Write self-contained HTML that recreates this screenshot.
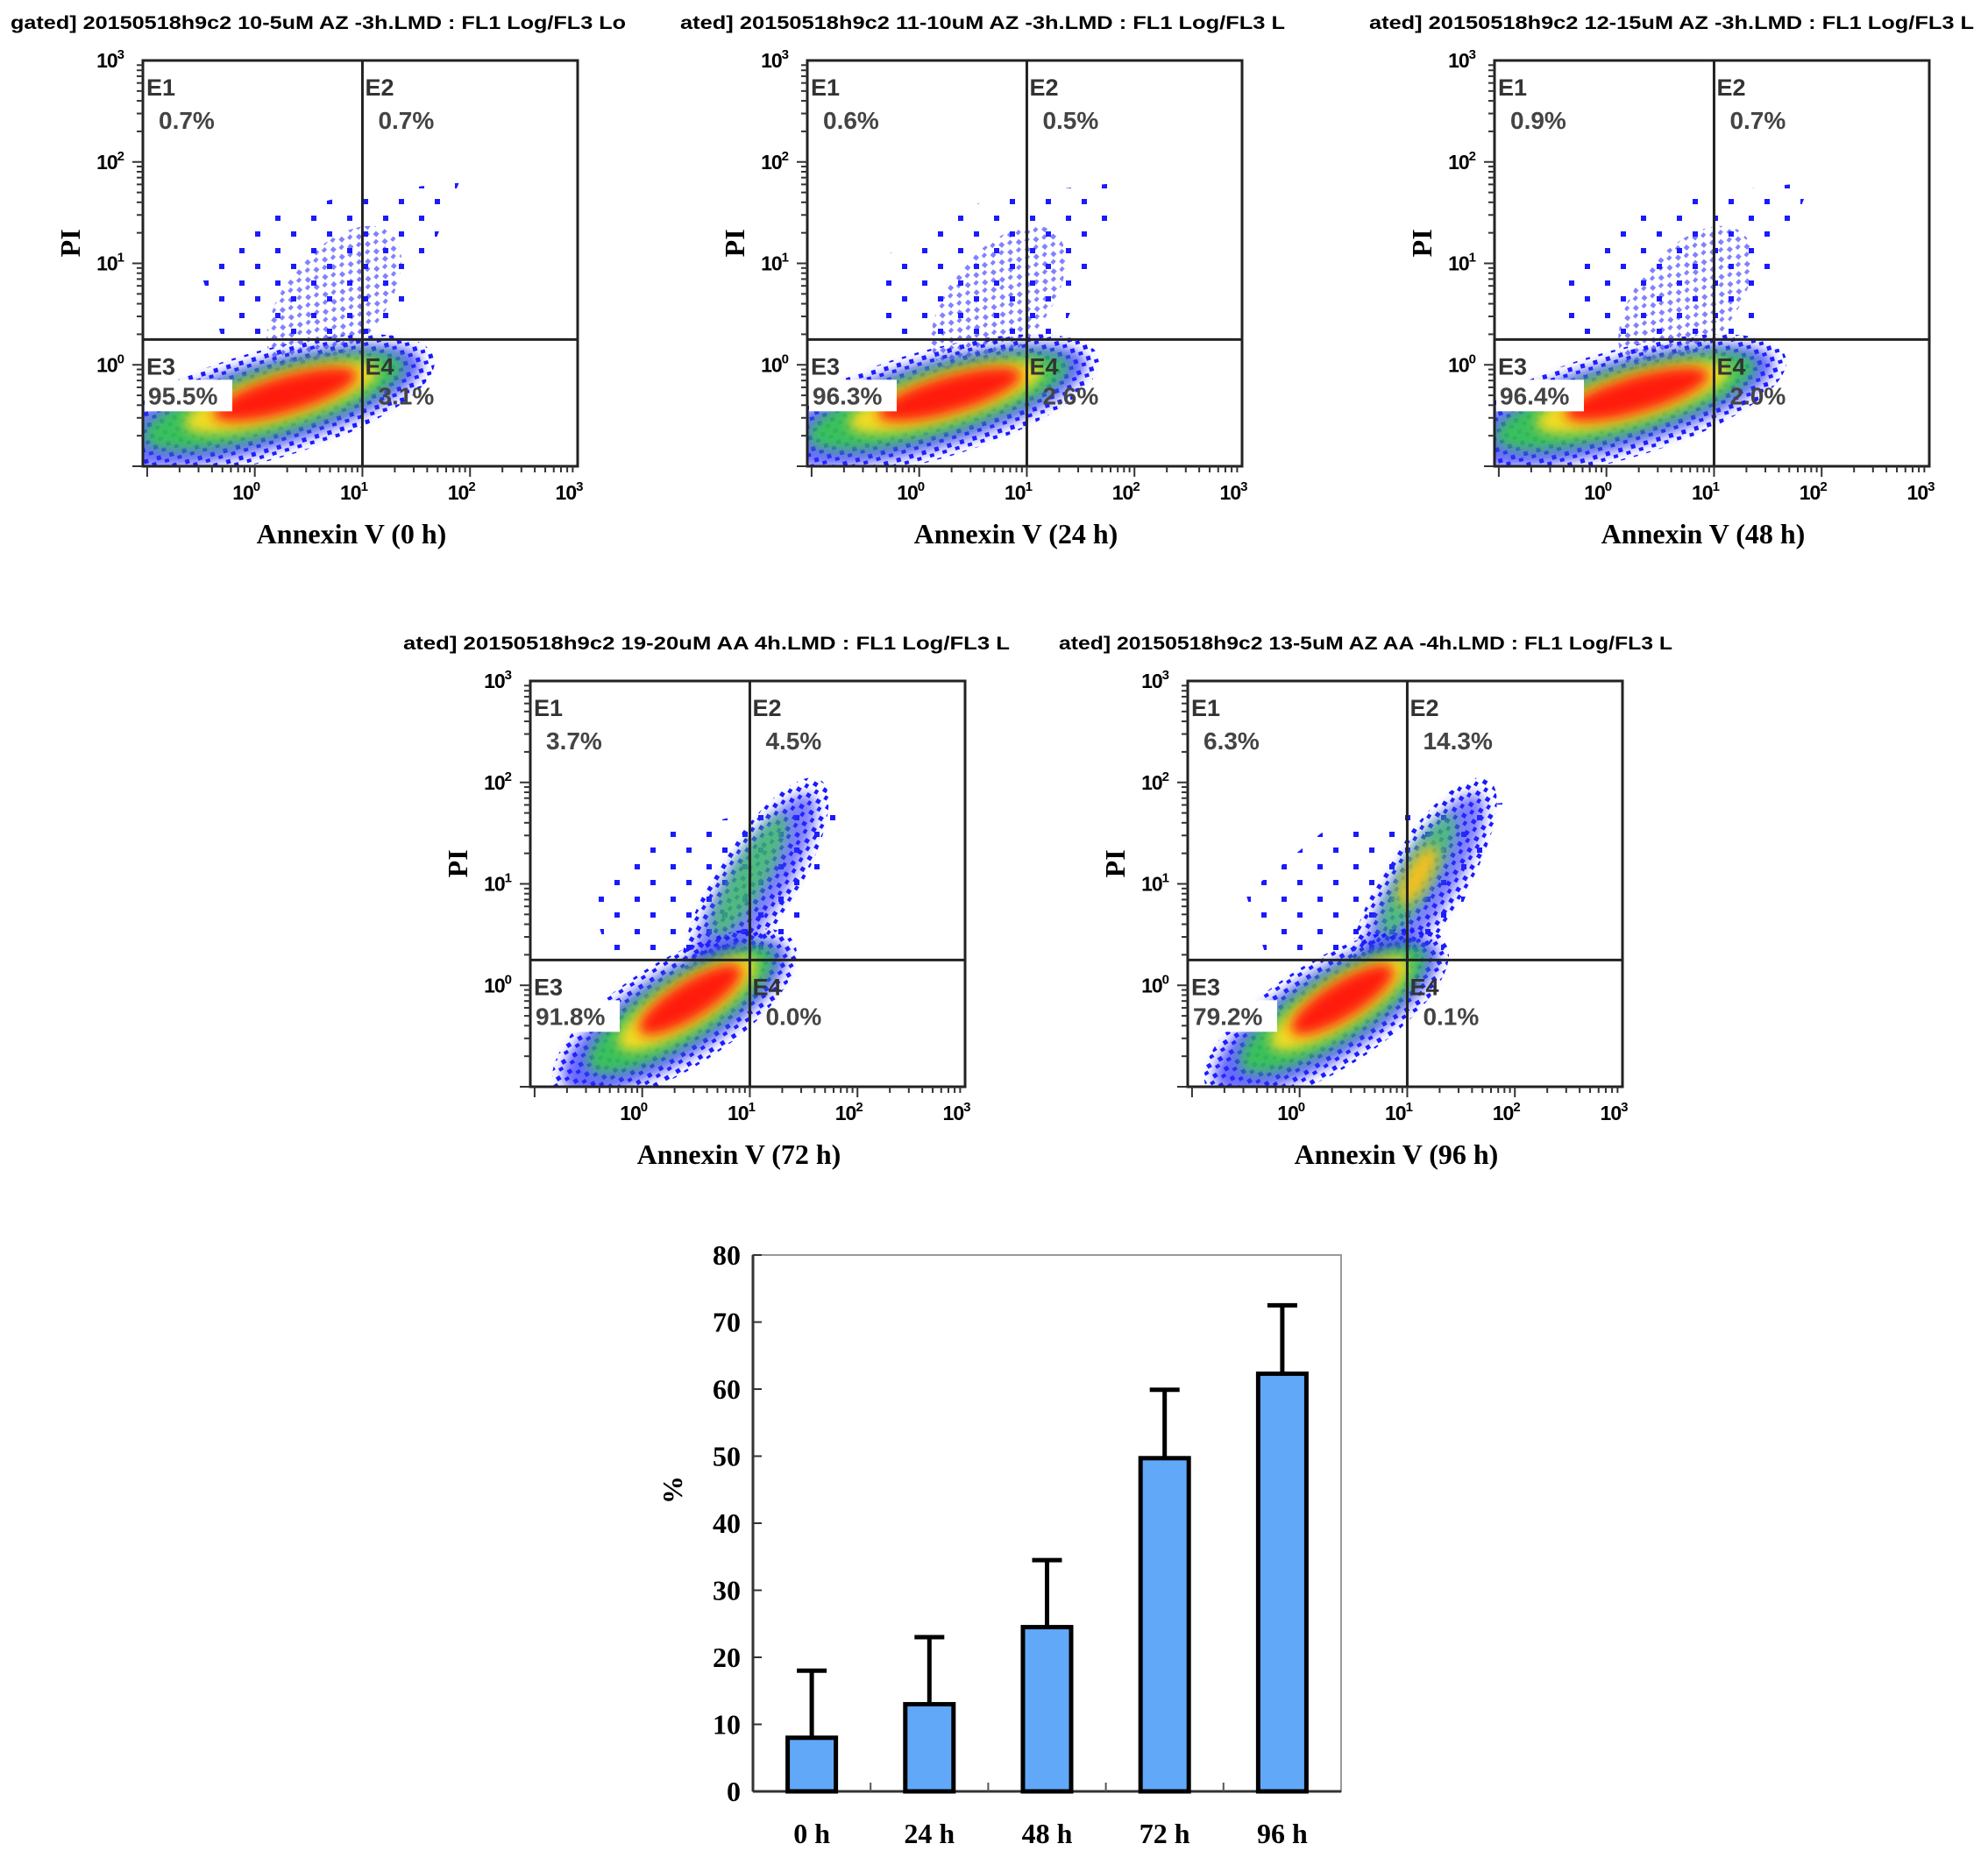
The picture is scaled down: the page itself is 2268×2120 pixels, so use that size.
<!DOCTYPE html>
<html><head><meta charset="utf-8">
<style>
html,body{margin:0;padding:0;background:#fff;}
svg{display:block;}
.t{font-family:"Liberation Sans",sans-serif;font-weight:bold;}
.s{font-family:"Liberation Serif",serif;font-weight:bold;}
</style></head>
<body>
<svg id="fig" width="2268" height="2120" viewBox="0 0 2268 2120" xmlns="http://www.w3.org/2000/svg">
<defs>
<filter id="blur" x="-30%" y="-30%" width="160%" height="160%"><feGaussianBlur stdDeviation="7"/></filter>
<pattern id="dots" width="15" height="13" patternUnits="userSpaceOnUse">
<rect x="2" y="3" width="5" height="5" fill="#1a1aff"/><rect x="10" y="9" width="5" height="5" fill="#1a1aff"/>
</pattern>
<pattern id="dots2" width="41" height="37" patternUnits="userSpaceOnUse">
<rect x="4" y="5" width="6" height="6" fill="#1a1aff"/><rect x="27" y="24" width="6" height="6" fill="#1a1aff"/>
</pattern>
</defs>
<g id="panels"></g>
<g id="bars"></g>
</svg>
<script>
const NS="http://www.w3.org/2000/svg";
// ---------- flow panel data ----------
const panelTitles=["gated] 20150518h9c2 10-5uM AZ -3h.LMD : FL1 Log/FL3 Lo","ated] 20150518h9c2 11-10uM AZ -3h.LMD : FL1 Log/FL3 L","ated] 20150518h9c2 12-15uM AZ -3h.LMD : FL1 Log/FL3 L","ated] 20150518h9c2 19-20uM AA  4h.LMD : FL1 Log/FL3 L","ated] 20150518h9c2 13-5uM AZ AA -4h.LMD : FL1 Log/FL3 L"];
const panelTimes=["0 h","24 h","48 h","72 h","96 h"];
const pctE1=["0.7%","0.6%","0.9%","3.7%","6.3%"];
const pctE2=["0.7%","0.5%","0.7%","4.5%","14.3%"];
const pctE3=["95.5%","96.3%","96.4%","91.8%","79.2%"];
const pctE4=["3.1%","2.6%","2.0%","0.0%","0.1%"];
// upper-right cluster centre (log units) per panel
const upperX=[0.9,0.9,0.9,1.05,1.15];
const upperY=[0.9,0.9,0.9,1.0,1.0];
const upperDense=[0,0,0,1,1];
// main population centre (log units)
const mainX=[0.1,0.1,0.1,0.3,0.25];
const mainY=[-0.4,-0.4,-0.4,-0.3,-0.3];

// ---------- bar data ----------
const categories=["0 h","24 h","48 h","72 h","96 h"];
const values=[8,13,24.5,49.7,62.3];
const errors=[10,10,10,10.2,10.2];
const yTicks=[0,10,20,30,40,50,60,70,80];

const PO=[[163,69],[921,69],[1705,69],[605,777],[1355,777]];
const titleX=[12,776,1562,460,1208];
const titleW=[702,690,690,692,700];
const W=496,H=463;

function el(tag,attrs,parent,txt){const e=document.createElementNS(NS,tag);for(const k in attrs)e.setAttribute(k,attrs[k]);if(txt!==undefined)e.textContent=txt;parent.appendChild(e);return e;}

const pg=document.getElementById('panels');
for(let i=0;i<5;i++){
  const [ox,oy]=PO[i];
  const sx=l=>ox+(l+1.04)/4.04*W, sy=l=>oy+(3-l)/4*H;
  const g=el('g',{},pg);
  
  
  const cid='clip'+i;
  const cp=el('clipPath',{id:cid},g);el('rect',{x:ox,y:oy,width:W,height:H},cp);
  const tt=el('text',{x:titleX[i],y:oy-36,class:'t','font-size':21,textLength:titleW[i],lengthAdjust:'spacingAndGlyphs'},g,panelTitles[i]);
  
  
  const cg=el('g',{'clip-path':'url(#'+cid+')'},g);
  // sparse dots (upper region)
  const poly=[[-0.3,0.25],[1.3,0.25],[1.9,1.8],[1.0,1.7],[0.2,1.5],[-0.5,0.9]].map(p=>sx(p[0])+','+sy(p[1])).join(' ');
  el('polygon',{points:poly,fill:'url(#dots2)'},cg);
  // upper-right cluster
  const ux=sx(upperX[i]),uy=sy(upperY[i]);
  if(upperDense[i]){
    el('ellipse',{cx:ux,cy:uy,rx:140,ry:46,transform:`rotate(-58 ${ux} ${uy})`,fill:'url(#dots)'},cg);
    el('ellipse',{cx:ux,cy:uy,rx:120,ry:34,transform:`rotate(-58 ${ux} ${uy})`,fill:'#2a2aff',opacity:0.6,filter:'url(#blur)'},cg);
    el('ellipse',{cx:ux+5,cy:uy-10,rx:80,ry:20,transform:`rotate(-60 ${ux} ${uy})`,fill:'#3cd34a',opacity:0.7,filter:'url(#blur)'},cg);
    if(i===4) el('ellipse',{cx:ux+5,cy:uy-10,rx:38,ry:14,transform:`rotate(-60 ${ux} ${uy})`,fill:'#f3c020',filter:'url(#blur)'},cg);
  } else {
    el('ellipse',{cx:ux-20,cy:uy+30,rx:100,ry:55,transform:`rotate(-50 ${ux-20} ${uy+30})`,fill:'url(#dots)',opacity:0.55},cg);
  }
  // main population
  const rot=i>=3?-32:-16;
  const mx=sx(mainX[i]), my=sy(mainY[i]);
  const k=i>=3?0.8:1;
  el('ellipse',{cx:mx,cy:my,rx:200*k,ry:62,transform:`rotate(${rot} ${mx} ${my})`,fill:'url(#dots)'},cg);
  el('ellipse',{cx:mx,cy:my,rx:185*k,ry:50,transform:`rotate(${rot} ${mx} ${my})`,fill:'#2a2aff',opacity:0.7,filter:'url(#blur)'},cg);
  el('ellipse',{cx:mx+10,cy:my-2,rx:155*k,ry:38,transform:`rotate(${rot} ${mx} ${my})`,fill:'#30d040',opacity:0.85,filter:'url(#blur)'},cg);
  el('ellipse',{cx:mx+20,cy:my-4,rx:115*k,ry:28,transform:`rotate(${rot} ${mx} ${my})`,fill:'#f2dc20',filter:'url(#blur)'},cg);
  el('ellipse',{cx:mx+25,cy:my-6,rx:85*k,ry:21,transform:`rotate(${rot} ${mx} ${my})`,fill:'#ff1a10',filter:'url(#blur)'},cg);
  // white label box behind E3 %
  el('rect',{x:ox+2,y:sy(0.25)+46,width:100,height:36,fill:'#fff'},cg);
  // frame and quadrant lines
  el('rect',{x:ox,y:oy,width:W,height:H,fill:'none',stroke:'#222','stroke-width':3},g);
  const qx=sx(1), qy=sy(0.25);
  el('line',{x1:qx,y1:oy,x2:qx,y2:oy+H,stroke:'#222','stroke-width':3},g);
  el('line',{x1:ox,y1:qy,x2:ox+W,y2:qy,stroke:'#222','stroke-width':3},g);
  const lab=[["E1",ox+4,oy+40],["E2",qx+3,oy+40],["E3",ox+4,qy+40],["E4",qx+3,qy+40]];
  lab.forEach(l=>{const t=el('text',{x:l[1],y:l[2],class:'t','font-size':27,fill:'#333'},g,l[0]);});
  const pv=[[pctE1[i],ox+18,oy+78],[pctE2[i],qx+18,oy+78],[pctE3[i],ox+6,qy+74],[pctE4[i],qx+18,qy+74]];
  pv.forEach(p=>{const t=el('text',{x:p[1],y:p[2],class:'t','font-size':28,fill:'#444'},g,p[0]);});
  for(let d=-1;d<3;d++){for(let m=1;m<10;m++){const l=d+Math.log10(m);if(l<-1.04)continue;
    const x=sx(l);el('line',{x1:x,y1:oy+H,x2:x,y2:oy+H+(m===1?12:7),stroke:'#333','stroke-width':2},g);
    const y=sy(l);if(l>=-1)el('line',{x1:ox,y1:y,x2:ox-(m===1?12:7),y2:y,stroke:'#333','stroke-width':2},g);}}
  for(let d=0;d<=3;d++){
    const t=el('text',{x:sx(d)-10,y:oy+H+38,class:'t','font-size':23,'text-anchor':'middle','letter-spacing':-1},g,'10');
    el('tspan',{dy:-10,'font-size':15},t,String(d));
    
    const u=el('text',{x:ox-22,y:sy(d)+8,class:'t','font-size':23,'text-anchor':'end','letter-spacing':-1},g,'10');
    el('tspan',{dy:-10,'font-size':15},u,String(d));
    
  }
  const xl=el('text',{x:ox+W/2-10,y:oy+H+88,class:'s','font-size':32,'text-anchor':'middle'},g,'Annexin V ('+panelTimes[i]+')');
  
  const yl=el('text',{x:0,y:0,class:'s','font-size':32,'text-anchor':'middle',transform:`translate(${ox-72},${sy(1.2)}) rotate(-90)`},g,'PI');
  
}

// ---------- bar chart ----------
const bg=document.getElementById('bars');


const L=859,R=1530,T=1432,B=2044;
const yS=v=>B-(v/80)*(B-T);
const band=(R-L)/categories.length;
const xC=i=>L+band*(i+0.5);
el('rect',{x:L,y:T,width:R-L,height:B-T,fill:'none',stroke:'#999','stroke-width':2},bg);
el('line',{x1:L,y1:T,x2:L,y2:B,stroke:'#333','stroke-width':3},bg);
el('line',{x1:L,y1:B,x2:R,y2:B,stroke:'#333','stroke-width':3},bg);
yTicks.forEach(v=>{
  el('line',{x1:L,y1:yS(v),x2:L+10,y2:yS(v),stroke:'#333','stroke-width':2},bg);
  const t=el('text',{x:L-14,y:yS(v)+11,class:'s','font-size':32,'text-anchor':'end'},bg,String(v));
  
});
for(let i=1;i<categories.length;i++){el('line',{x1:L+band*i,y1:B,x2:L+band*i,y2:B-10,stroke:'#555','stroke-width':2},bg);}
const bw=band*0.41;
categories.forEach((c,i)=>{
  const x=xC(i),top=yS(values[i]),et=yS(values[i]+errors[i]);
  const eb=el('line',{x1:x,y1:top,x2:x,y2:et,stroke:'#000','stroke-width':5},bg);
  
  el('line',{x1:x-17,y1:et,x2:x+17,y2:et,stroke:'#000','stroke-width':5},bg);
  const r=el('rect',{x:x-bw/2,y:top,width:bw,height:B-top,fill:'#62a8f8',stroke:'#000','stroke-width':5},bg);
  
  const t=el('text',{x:x,y:2103,class:'s','font-size':32,'text-anchor':'middle'},bg,c);
  
});
const pt=el('text',{x:0,y:0,class:'s','font-size':32,'text-anchor':'middle',transform:`translate(778,1700) rotate(-90)`},bg,'%');

</script>
</body></html>
